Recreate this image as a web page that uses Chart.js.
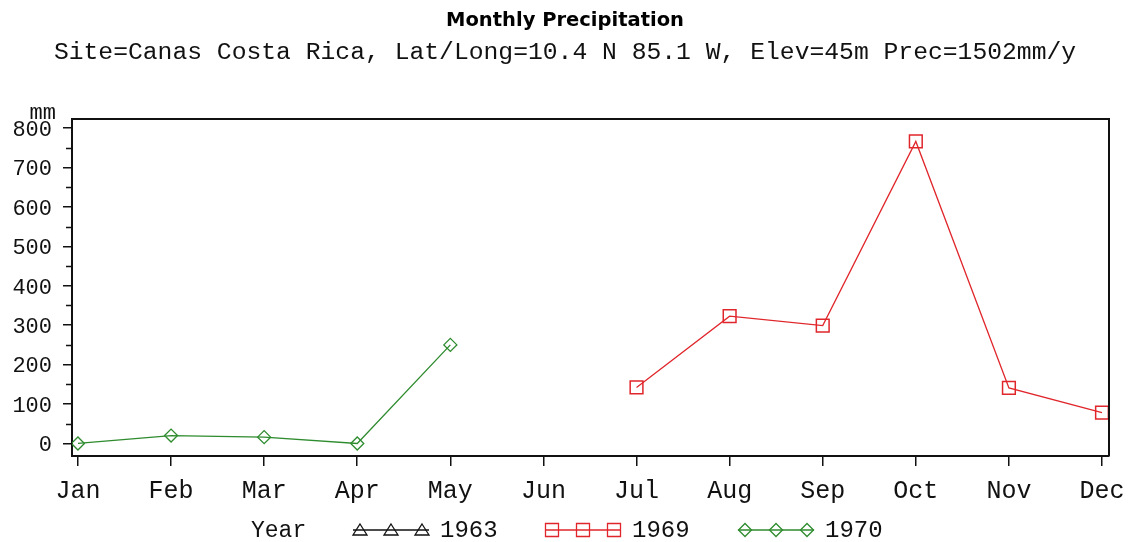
<!DOCTYPE html>
<html>
<head>
<meta charset="utf-8">
<script src="https://cdn.jsdelivr.net/npm/chart.js@4.4.1/dist/chart.umd.min.js"></script>
<style>
  html, body { margin: 0; padding: 0; background: #fff; }
  #wrap { width: 1130px; height: 542px; }
</style>
</head>
<body>
<div id="wrap"><canvas id="c" width="1130" height="542"></canvas></div>
<script>
// ---- data ----
const months = ['Jan','Feb','Mar','Apr','May','Jun','Jul','Aug','Sep','Oct','Nov','Dec'];
const yTickValues = [0, 100, 200, 300, 400, 500, 600, 700, 800];
const yMinorValues = [50, 150, 250, 350, 450, 550, 650, 750];
const prec1963 = [null, null, null, null, null, null, null, null, null, null, null, null];
const prec1969 = [null, null, null, null, null, null, 142, 323, 299, 766, 141, 78];
const prec1970 = [0, 20, 16, 0, 250, null, null, null, null, null, null, null];
const years = ['1963', '1969', '1970'];

const toXY = arr => arr.map((v, i) => ({ x: i, y: v }));

const MONO = '"Liberation Mono", "DejaVu Sans Mono", monospace';

const frameAndExtras = {
  id: 'frameAndExtras',
  afterDraw(chart) {
    const { ctx, chartArea: a, scales } = chart;
    ctx.save();
    // frame (top and right)
    ctx.strokeStyle = '#111';
    ctx.lineWidth = 2;
    ctx.beginPath();
    ctx.moveTo(a.left, a.top);
    ctx.lineTo(a.right, a.top);
    ctx.lineTo(a.right, a.bottom);
    ctx.stroke();
    // minor y ticks
    ctx.lineWidth = 1.5;
    ctx.beginPath();
    yMinorValues.forEach(v => {
      const y = Math.round(scales.y.getPixelForValue(v)) + 0.5;
      ctx.moveTo(a.left - 6, y);
      ctx.lineTo(a.left, y);
    });
    ctx.stroke();
    // "mm" axis unit
    ctx.fillStyle = '#111';
    ctx.font = '22px ' + MONO;
    ctx.textAlign = 'right';
    ctx.textBaseline = 'alphabetic';
    ctx.fillText('mm', 56, 119);
    // legend
    const ly = 530;
    ctx.font = '23px ' + MONO;
    ctx.textAlign = 'left';
    ctx.textBaseline = 'middle';
    ctx.fillText('Year', 251, ly + 1);
    const starts = [353, 545, 738];
    chart.data.datasets.forEach((ds, i) => {
      const x0 = starts[i];
      const len = 76;
      ctx.strokeStyle = ds.borderColor;
      ctx.lineWidth = 1.3;
      ctx.beginPath();
      ctx.moveTo(x0, ly);
      ctx.lineTo(x0 + len, ly);
      ctx.stroke();
      for (let k = 0; k < 3; k++) {
        const cx = x0 + 7 + k * (len - 14) / 2;
        ctx.beginPath();
        if (ds.pointStyle === 'triangle') {
          ctx.moveTo(cx, ly - 6);
          ctx.lineTo(cx + 7, ly + 5);
          ctx.lineTo(cx - 7, ly + 5);
          ctx.closePath();
        } else if (ds.pointStyle === 'rect') {
          ctx.rect(cx - 6.5, ly - 6.5, 13, 13);
        } else {
          ctx.moveTo(cx, ly - 6.5);
          ctx.lineTo(cx + 6.5, ly);
          ctx.lineTo(cx, ly + 6.5);
          ctx.lineTo(cx - 6.5, ly);
          ctx.closePath();
        }
        ctx.stroke();
      }
      ctx.fillStyle = '#111';
      ctx.font = '24px ' + MONO;
      ctx.fillText(ds.label, x0 + len + 11, ly + 1);
    });
    ctx.restore();
  }
};

new Chart(document.getElementById('c'), {
  type: 'line',
  data: {
    datasets: [
      { label: years[0], data: toXY(prec1963), borderColor: '#111', pointStyle: 'triangle',
        pointRadius: 7, borderWidth: 1.3, pointBorderWidth: 1.3, backgroundColor: 'transparent', pointBackgroundColor: 'transparent' },
      { label: years[1], data: toXY(prec1969), borderColor: '#e0262b', pointStyle: 'rect',
        pointRadius: 9, borderWidth: 1.3, pointBorderWidth: 1.5, backgroundColor: 'transparent', pointBackgroundColor: 'transparent' },
      { label: years[2], data: toXY(prec1970), borderColor: '#2e8b2e', pointStyle: 'rectRot',
        pointRadius: 6.5, borderWidth: 1.3, pointBorderWidth: 1.3, backgroundColor: 'transparent', pointBackgroundColor: 'transparent' }
    ]
  },
  options: {
    responsive: false,
    animation: false,
    spanGaps: false,
    layout: { padding: { left: 0, right: 0, top: 0, bottom: 0 } },
    elements: { line: { tension: 0, fill: false } },
    plugins: {
      legend: { display: false },
      tooltip: { enabled: false },
      title: {
        display: true,
        text: 'Monthly Precipitation',
        color: '#000',
        font: { family: '"DejaVu Sans", "Liberation Sans", sans-serif', size: 19.5, weight: 'bold', lineHeight: 1.2 },
        padding: { top: 9, bottom: 5 }
      },
      subtitle: {
        display: true,
        text: 'Site=Canas Costa Rica, Lat/Long=10.4 N 85.1 W, Elev=45m Prec=1502mm/y',
        color: '#111',
        font: { family: MONO, size: 24.7, lineHeight: 1.2 },
        padding: { top: 0, bottom: 52 }
      }
    },
    scales: {
      x: {
        type: 'linear',
        min: -0.064,
        max: 11.075,
        afterBuildTicks: s => { s.ticks = months.map((m, i) => ({ value: i })); },
        afterFit: s => { s.height = 86; s.paddingLeft = 0; s.paddingRight = 21; },
        ticks: {
          callback: v => months[v],
          color: '#111',
          font: { family: MONO, size: 25, lineHeight: 1.2 },
          padding: 10,
          maxRotation: 0,
          autoSkip: false
        },
        grid: { drawOnChartArea: false, drawTicks: true, tickLength: 10, color: '#111', lineWidth: 1.5 },
        border: { display: true, color: '#111', width: 2 }
      },
      y: {
        type: 'linear',
        min: -31.8,
        max: 822.9,
        afterBuildTicks: s => { s.ticks = yTickValues.map(v => ({ value: v })); },
        afterFit: s => { s.width = 72; },
        ticks: {
          callback: v => String(v),
          color: '#111',
          font: { family: MONO, size: 22, lineHeight: 1.2 },
          padding: 11,
          labelOffset: 2
        },
        grid: { drawOnChartArea: false, drawTicks: true, tickLength: 9, color: '#111', lineWidth: 1.5 },
        border: { display: true, color: '#111', width: 2 }
      }
    }
  },
  plugins: [frameAndExtras]
});
</script>
</body>
</html>
